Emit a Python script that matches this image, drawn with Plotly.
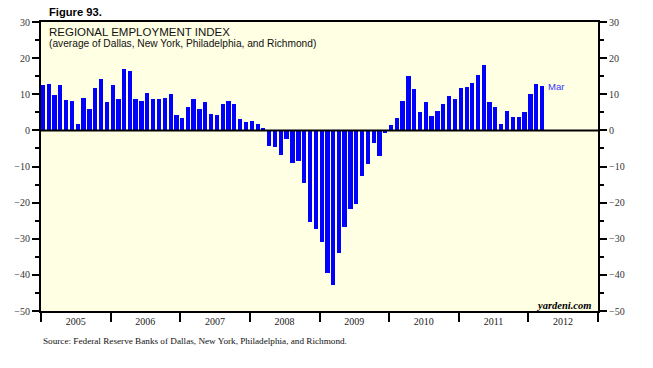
import plotly.graph_objects as go
import pandas as pd

# Monthly regional employment index, Jan 2005 .. Mar 2012
months = pd.date_range("2005-01-01", "2012-03-01", freq="MS").strftime("%Y-%m-%d").tolist()
values_2005 = [12.5, 12.8, 9.7, 12.5, 8.3, 8.1, 1.9, 8.9, 5.8, 11.7, 14.2, 7.8]
values_2006 = [12.5, 8.6, 16.9, 16.4, 8.6, 8.1, 10.3, 8.6, 8.6, 8.9, 10.0, 4.2]
values_2007 = [3.3, 6.4, 8.6, 5.8, 7.8, 4.4, 4.2, 7.2, 8.1, 7.2, 3.1, 2.2]
values_2008 = [2.5, 1.7, 0.6, -4.2, -4.7, -6.9, -2.5, -8.9, -8.6, -14.7, -25.3, -27.2]
values_2009 = [-30.8, -39.4, -42.8, -33.9, -26.7, -21.9, -20.5, -12.5, -9.2, -3.6, -7.2, -0.6]
values_2010 = [1.4, 3.3, 8.1, 15.0, 11.4, 5.0, 7.8, 3.9, 5.3, 7.2, 9.4, 8.6]
values_2011 = [11.7, 11.9, 13.1, 15.3, 18.1, 7.8, 6.4, 1.7, 5.3, 3.6, 3.6, 5.0]
values_2012 = [10.0, 12.8, 12.2]
values = (values_2005 + values_2006 + values_2007 + values_2008 + values_2009
          + values_2010 + values_2011 + values_2012)

y_ticks = [30, 20, 10, 0, -10, -20, -30, -40, -50]
last_label = "Mar"

SERIF = "Liberation Serif, Times New Roman, serif"
SANS = "Liberation Sans, Arial, sans-serif"
DAY_MS = 86400000

fig = go.Figure()
fig.add_trace(go.Bar(
    x=months, y=values,
    marker=dict(color="#0000FF", line=dict(width=0)),
    width=22.5 * DAY_MS, offset=0,
    showlegend=False, hoverinfo="x+y",
))
# invisible trace for right axis
fig.add_trace(go.Scatter(x=[months[0]], y=[0], yaxis="y2", mode="markers",
                         marker=dict(opacity=0), showlegend=False, hoverinfo="skip"))

yax = dict(
    range=[-50, 30], tickvals=y_ticks, ticks="outside", ticklen=7, tickwidth=1.5,
    tickcolor="black", showline=True, linecolor="black", linewidth=2,
    showgrid=False, zeroline=False,
    tickfont=dict(family=SERIF, size=10, color="#333333"),
    minor=dict(dtick=5, ticks="outside", ticklen=4, tickwidth=1.5, tickcolor="black"),
    fixedrange=True,
)
fig.update_layout(
    width=653, height=368,
    margin=dict(l=41, r=55, t=22, b=57),
    paper_bgcolor="white", plot_bgcolor="#FFFFE4",
    bargap=0,
    xaxis=dict(
        type="date", range=["2005-01-01", "2013-01-01"],
        dtick="M12", tick0="2005-01-01", ticklabelmode="period", tickformat="%Y",
        ticks="outside", ticklen=9, tickwidth=1.5, tickcolor="black",
        ticklabelstandoff=-9,
        showline=True, linecolor="black", linewidth=2, mirror=True,
        showgrid=False, zeroline=False,
        tickfont=dict(family=SERIF, size=10, color="#222222"),
    ),
    yaxis=yax,
    yaxis2=dict(yax, overlaying="y", side="right"),
    shapes=[dict(type="line", xref="paper", x0=0, x1=1, yref="y", y0=0, y1=0,
                 line=dict(color="black", width=2), layer="above")],
    annotations=[
        dict(text="<b>Figure 93.</b>", xref="paper", yref="paper", x=0.011, y=1.036,
             xanchor="left", yanchor="middle", showarrow=False,
             font=dict(family=SANS, size=11.2, color="black")),
        dict(text="REGIONAL EMPLOYMENT INDEX", xref="paper", yref="paper", x=0.011, y=0.966,
             xanchor="left", yanchor="middle", showarrow=False,
             font=dict(family=SANS, size=11.5, color="#111111")),
        dict(text="(average of Dallas, New York, Philadelphia, and Richmond)", xref="paper",
             yref="paper", x=0.011, y=0.925, xanchor="left", yanchor="middle",
             showarrow=False, font=dict(family=SANS, size=10.2, color="#111111")),
        dict(text=last_label, x=months[-1], y=values[-1], xanchor="left", yanchor="middle",
             xshift=6, showarrow=False, font=dict(family=SANS, size=9.5, color="#3333FF")),
        dict(text="<b><i>yardeni.com</i></b>", xref="paper", yref="paper", x=0.9905, y=0.018,
             xanchor="right", yanchor="middle", showarrow=False,
             font=dict(family=SERIF, size=10.5, color="black")),
        dict(text="Source: Federal Reserve Banks of Dallas, New York, Philadelphia, and Richmond.",
             xref="paper", yref="paper", x=0.0, y=-0.104, xanchor="left", yanchor="middle",
             showarrow=False, font=dict(family=SERIF, size=9.2, color="#111111")),
    ],
)

fig.write_html("out.html", config={"displayModeBar": False},
               post_script="document.body.style.margin='0';")
